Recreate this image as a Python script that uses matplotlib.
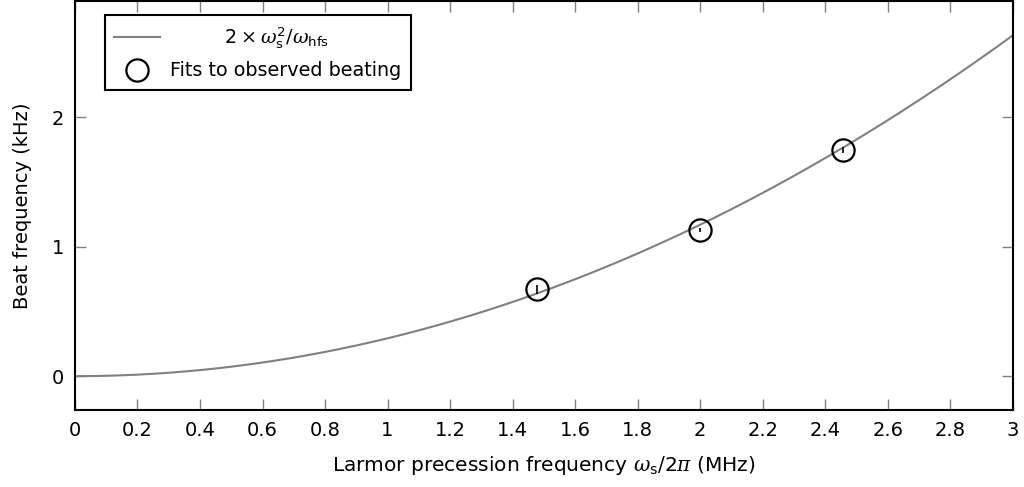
import numpy as np
import matplotlib
matplotlib.use("Agg")
import matplotlib.pyplot as plt

plt.rcParams['font.family'] = ['DejaVu Sans']
plt.rcParams['mathtext.fontset'] = 'dejavuserif'

# Data
omega_hfs = 6834.68  # MHz (hyperfine splitting)
obs_x = [1.479, 2.0, 2.457]        # MHz
obs_y = [0.67, 1.133, 1.75]        # kHz
obs_err = [0.035, 0.015, 0.025]    # kHz
xticks = [0, 0.2, 0.4, 0.6, 0.8, 1, 1.2, 1.4, 1.6, 1.8, 2, 2.2, 2.4, 2.6, 2.8, 3]
xticklabels = ['0', '0.2', '0.4', '0.6', '0.8', '1', '1.2', '1.4', '1.6', '1.8', '2',
               '2.2', '2.4', '2.6', '2.8', '3']
yticks = [0, 1, 2]

fig = plt.figure(figsize=(10.24, 4.87), dpi=100)
ax = fig.add_axes([0.0732, 0.158, 0.9158, 0.840])

xs = np.linspace(0, 3, 400)
ax.plot(xs, 2 * xs**2 / omega_hfs * 1e3, color='#808080', lw=1.5,
        label=r'         $\mathsf{2}\times\omega_{\mathsf{s}}^{\mathsf{2}}/\omega_{\mathsf{hfs}}$')
ax.errorbar(obs_x, obs_y, yerr=obs_err, fmt='none', ecolor='black', elinewidth=1.2)
ax.plot(obs_x, obs_y, 'o', ms=16, mfc='none', mec='black', mew=1.6,
        label='Fits to observed beating')

ax.set_xlim(0, 3)
ax.set_ylim(-0.262, 2.9)
ax.set_xticks(xticks)
ax.set_xticklabels(xticklabels)
ax.set_yticks(yticks)
ax.tick_params(direction='in', length=8, width=1, color='#808080',
               top=True, right=True, labelsize=14, pad=8)
for s in ax.spines.values():
    s.set_linewidth(1.5)
    s.set_color('black')

ax.set_xlabel(r'Larmor precession frequency $\omega_{\mathsf{s}}/\mathsf{2}\pi$ (MHz)', fontsize=14.5, labelpad=10)
ax.set_ylabel('Beat frequency (kHz)', fontsize=14, labelpad=14)

leg = ax.legend(loc='upper left', bbox_to_anchor=(0.0215, 0.988), fontsize=13.8,
                frameon=True, fancybox=False, edgecolor='black', framealpha=1,
                handlelength=2.4, borderpad=0.5, labelspacing=0.55, handletextpad=0.5)
leg.get_frame().set_linewidth(1.5)

fig.savefig('out.png', dpi=100)
